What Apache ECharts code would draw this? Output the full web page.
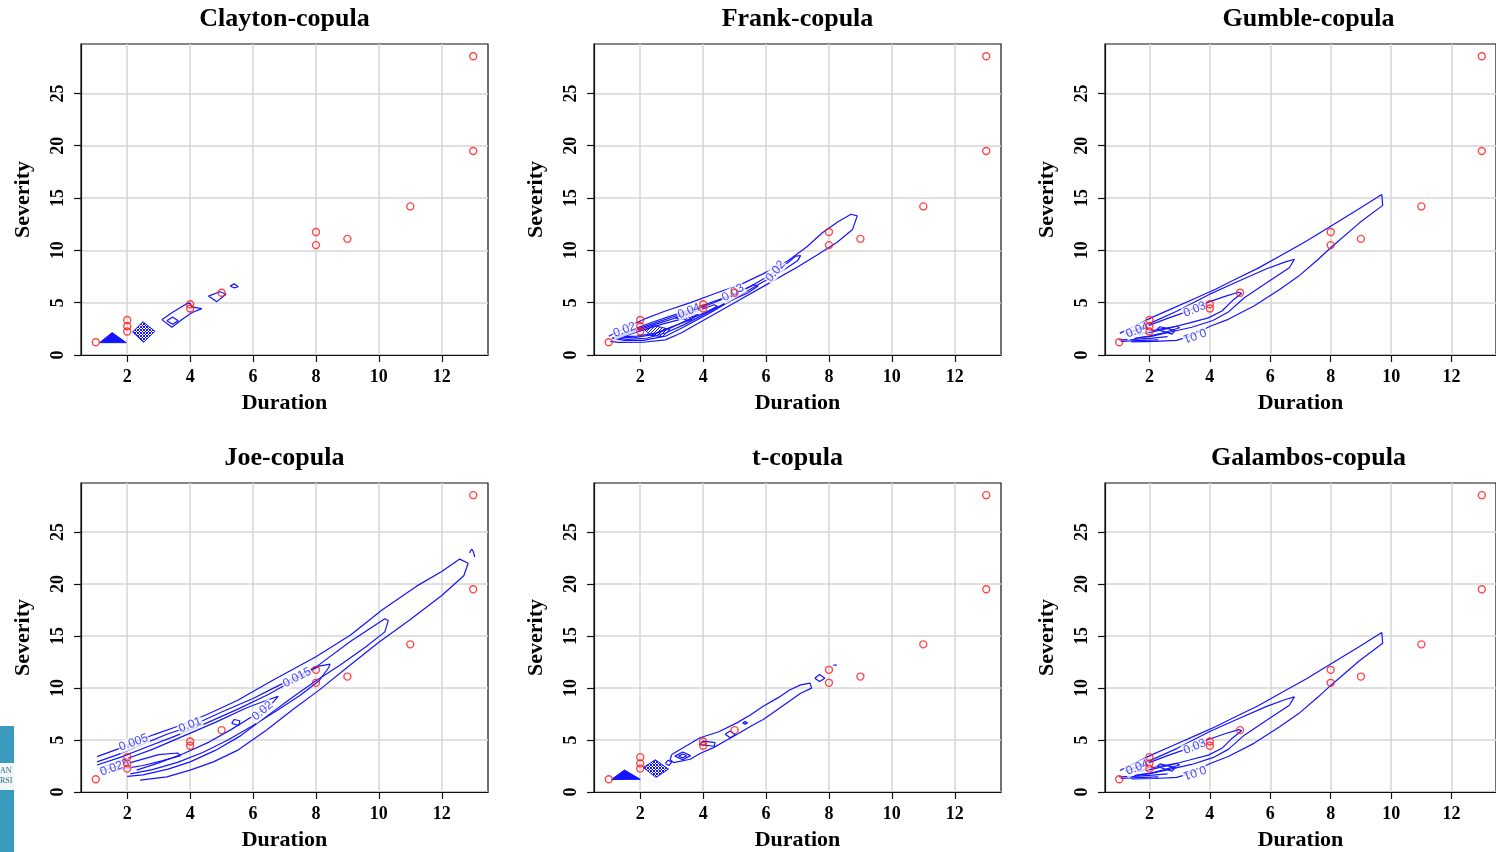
<!DOCTYPE html>
<html><head><meta charset="utf-8">
<script src="https://cdn.jsdelivr.net/npm/echarts@6/dist/echarts.min.js"></script>
<style>html,body{margin:0;padding:0;background:#fff}#c{width:1496px;height:852px}</style>
</head><body><div id="c"></div>
<script>
// ---------------- data ----------------
const panelTitles = ['Clayton-copula', 'Frank-copula', 'Gumble-copula', 'Joe-copula', 't-copula', 'Galambos-copula'];
const xTickValues = [2, 4, 6, 8, 10, 12];
const yTickValues = [0, 5, 10, 15, 20, 25];
const xRange = [0.53, 13.47];
const yRange = [0, 29.72];
const obsDuration = [1, 2, 2, 2, 4, 4, 5, 8, 8, 9, 11, 13, 13];
const obsSeverity = [1.22, 3.35, 2.75, 2.25, 4.45, 4.85, 5.95, 11.75, 10.5, 11.1, 14.2, 19.5, 28.55];

// Clayton contours
const claytonSolid = [[[1.12, 1.18], [1.52, 2.14], [1.97, 1.18]]];
const claytonHatch = [[[2.17, 2.2], [2.5, 3.18], [2.88, 2.27], [2.52, 1.22]]];
const claytonLines = [
  [[3.1, 3.38], [3.42, 4.04], [3.9, 4.93], [4.0, 4.95], [4.05, 4.6], [4.37, 4.43], [4.05, 4.04], [3.74, 3.4], [3.42, 2.65], [3.1, 3.38]],
  [[3.26, 3.27], [3.44, 3.63], [3.62, 3.27], [3.44, 2.93], [3.26, 3.27]],
  [[4.58, 5.63], [4.95, 6.05], [5.14, 5.8], [4.85, 5.1], [4.58, 5.63]],
  [[5.27, 6.6], [5.4, 6.8], [5.53, 6.52], [5.4, 6.42], [5.27, 6.6]]
];
const claytonLabels = [];

// Frank contours
const frankLines = [
  [[1.0, 1.8], [1.5, 2.55], [2.1, 3.4], [2.8, 4.2], [3.6, 5.0], [4.4, 5.9], [5.2, 6.75], [5.9, 7.75], [6.7, 9.0], [7.3, 10.35], [7.8, 11.7], [8.3, 12.75], [8.7, 13.45], [8.9, 13.3], [8.75, 12.0], [8.25, 10.75], [7.6, 9.5], [7.0, 8.4], [6.0, 6.7], [5.0, 5.0], [4.0, 3.3], [3.3, 2.1], [2.8, 1.45], [2.1, 1.22], [1.3, 1.2], [1.05, 1.3]],
  [[1.1, 1.6], [1.7, 2.35], [2.4, 3.15], [3.2, 3.95], [4.0, 4.75], [4.8, 5.6], [5.5, 6.55], [6.1, 7.6], [6.6, 8.6], [6.95, 9.45], [7.1, 9.5], [7.0, 9.0], [6.5, 8.0], [5.8, 6.8], [5.0, 5.4], [4.2, 4.0], [3.4, 2.7], [2.8, 1.8], [2.1, 1.4], [1.5, 1.4], [1.1, 1.6]],
  [[1.2, 1.65], [1.8, 2.35], [2.5, 3.1], [3.2, 3.8], [3.9, 4.5], [4.6, 5.3], [5.2, 6.1], [5.6, 6.7], [5.75, 6.6], [5.4, 5.9], [4.8, 5.1], [4.1, 4.0], [3.4, 2.9], [2.8, 2.1], [2.2, 1.6], [1.6, 1.5], [1.2, 1.65]],
  [[1.3, 1.7], [1.9, 2.35], [2.6, 3.05], [3.3, 3.7], [3.9, 4.3], [4.35, 4.8], [4.45, 4.65], [4.1, 4.1], [3.5, 3.35], [2.9, 2.5], [2.4, 1.95], [1.8, 1.65], [1.3, 1.7]],
  [[1.45, 1.75], [2.0, 2.3], [2.7, 2.95], [3.4, 3.5], [3.75, 3.75], [3.6, 3.35], [3.0, 2.7], [2.5, 2.1], [1.9, 1.8], [1.45, 1.75]]
];
const frankHatch = [
  [[2.15, 2.4], [2.45, 2.8], [2.95, 2.45], [2.7, 1.75], [2.3, 1.9]],
  [[3.1, 3.55], [3.4, 4.0], [3.85, 3.85], [3.55, 3.3]]
];
const frankLabels = [['0.02', 1.5, 2.4, 20], ['0.04', 3.55, 4.2, 22], ['0.03', 4.95, 5.95, 30], ['0.02', 6.3, 8.0, 50]];

// Gumbel contours
const gumbelLines = [
  [[1.02, 2.07], [1.5, 2.75], [2.07, 3.57], [2.8, 4.5], [3.56, 5.47], [4.2, 6.3], [4.83, 7.22], [5.6, 8.3], [6.41, 9.61], [7.2, 10.9], [8.0, 12.31], [8.9, 13.9], [9.69, 15.33], [9.72, 14.3], [8.95, 12.63], [8.0, 10.25], [7.58, 9.13], [6.94, 7.54], [6.31, 6.27], [5.46, 4.68], [4.61, 3.41], [4.03, 2.77], [3.3, 1.75], [2.9, 1.4], [2.18, 1.3], [1.4, 1.25]],
  [[1.2, 2.0], [1.5, 2.35], [2.07, 3.09], [2.92, 4.2], [3.98, 5.79], [4.83, 6.9], [5.88, 8.24], [6.5, 8.9], [6.8, 9.15], [6.85, 9.0], [6.63, 8.34], [5.88, 6.9], [5.14, 5.47], [4.61, 4.1], [4.1, 3.3], [3.4, 2.65], [2.7, 2.2], [2.1, 1.8], [1.5, 1.6]],
  [[1.3, 2.05], [1.7, 2.5], [2.1, 2.95], [2.6, 3.5], [3.1, 4.0], [3.95, 5.05], [4.5, 5.6], [4.95, 6.0], [5.05, 5.9], [4.75, 5.2], [4.4, 4.2], [3.95, 3.55], [3.3, 3.05], [2.7, 2.6], [2.1, 2.2], [1.6, 1.95]],
  [[1.35, 1.85], [1.8, 2.15], [2.3, 2.45], [2.9, 2.75], [3.0, 2.6], [2.5, 2.15], [2.0, 1.8], [1.5, 1.6]],
  [[2.25, 2.45], [2.35, 2.7], [2.85, 2.35], [2.75, 2.0], [2.25, 2.45]],
  [[1.0, 1.45], [1.5, 1.5], [2.1, 1.62], [2.6, 1.75]],
  [[1.05, 1.3], [1.6, 1.38], [2.3, 1.45]]
];
const gumbelLabels = [['0.04', 1.6, 2.35, 22], ['0.03', 3.5, 4.35, 22], ['0.01', 3.5, 1.9, 200]];

// Joe contours
const joeLines = [
  [[1.04, 3.4], [1.67, 4.1], [2.2, 4.75], [2.83, 5.5], [3.63, 6.35], [4.5, 7.4], [5.5, 8.8], [6.6, 10.7], [8.0, 13.0], [9.1, 15.1], [10.1, 17.5], [11.2, 19.8], [12.0, 21.2], [12.57, 22.4], [12.84, 22.0], [12.7, 20.8], [12.0, 18.9], [11.0, 16.6], [10.0, 14.4], [9.0, 12.0], [8.1, 9.8], [7.3, 8.0], [6.4, 5.9], [5.5, 4.0], [4.74, 2.9], [4.0, 2.1], [3.26, 1.45], [2.41, 1.15]],
  [[1.04, 2.9], [1.7, 3.6], [2.5, 4.6], [3.3, 5.6], [4.0, 6.3], [5.0, 7.7], [6.0, 9.0], [6.65, 9.99], [8.02, 12.06], [9.08, 14.45], [10.19, 16.67], [10.3, 16.5], [10.19, 15.4], [9.6, 14.0], [8.76, 12.2], [8.0, 10.7], [7.2, 9.0], [6.4, 7.2], [5.6, 5.4], [4.8, 4.0], [4.0, 2.9], [3.3, 2.2], [2.5, 1.65], [2.0, 1.5]],
  [[1.04, 2.6], [1.8, 3.35], [2.6, 4.3], [3.5, 5.35], [4.5, 6.6], [5.5, 7.95], [6.5, 9.4], [7.4, 10.95], [8.1, 12.1], [8.45, 12.3], [8.4, 11.95], [8.1, 10.7], [7.5, 9.3], [6.8, 7.9], [6.0, 6.4], [5.2, 5.0], [4.4, 3.8], [3.6, 2.85], [2.8, 2.15], [2.1, 1.75]],
  [[1.1, 2.3], [1.9, 3.1], [2.8, 4.1], [3.8, 5.4], [4.8, 6.7], [5.8, 8.1], [6.5, 8.9], [6.8, 9.2], [6.6, 8.5], [6.0, 7.3], [5.3, 6.0], [4.6, 4.8], [3.8, 3.7], [3.0, 2.8], [2.3, 2.1]],
  [[5.32, 6.6], [5.4, 6.97], [5.58, 6.85], [5.55, 6.4], [5.32, 6.6]],
  [[1.1, 2.0], [1.6, 2.4], [2.3, 3.0], [3.0, 3.6], [3.6, 3.75], [3.7, 3.5], [3.1, 3.0], [2.5, 2.55], [2.0, 2.3], [1.5, 2.0]],
  [[12.88, 23.0], [12.95, 23.35], [13.0, 23.15], [13.05, 22.6]]
];
const joeLabels = [['0.005', 2.2, 4.75, 20], ['0.01', 4.0, 6.45, 22], ['0.015', 7.4, 11.0, 27], ['0.02', 6.3, 7.8, 40], ['0.025', 1.6, 2.35, 20]];

// t contours
const tSolid = [[[1.08, 1.2], [1.5, 2.12], [2.0, 1.22]]];
const tHatch = [[[2.1, 2.36], [2.48, 3.1], [2.9, 2.2], [2.5, 1.4]]];
const tLines = [
  [[3.0, 3.6], [3.06, 3.79], [3.5, 4.5], [3.9, 5.22], [4.5, 5.8], [5.07, 6.65], [5.5, 7.4], [5.91, 8.24], [6.4, 9.1], [6.76, 9.83], [7.1, 10.3], [7.4, 10.47], [7.45, 9.99], [7.1, 9.5], [6.66, 8.56], [6.3, 7.8], [5.91, 6.97], [5.5, 6.3], [5.07, 5.53], [4.7, 4.9], [4.33, 4.27], [3.9, 3.7], [3.59, 3.15], [3.06, 2.83], [2.95, 3.1], [3.0, 3.6]],
  [[3.1, 3.45], [3.35, 3.85], [3.6, 3.5], [3.35, 3.1], [3.1, 3.45]],
  [[3.22, 3.45], [3.35, 3.65], [3.48, 3.48], [3.35, 3.28], [3.22, 3.45]],
  [[2.8, 2.75], [2.88, 3.05], [3.0, 2.9], [2.92, 2.55], [2.8, 2.75]],
  [[3.88, 4.55], [4.0, 4.9], [4.38, 4.75], [4.35, 4.4], [3.88, 4.55]],
  [[4.7, 5.55], [4.86, 5.86], [5.02, 5.5], [4.86, 5.22], [4.7, 5.55]],
  [[5.26, 6.65], [5.33, 6.77], [5.41, 6.65], [5.33, 6.53], [5.26, 6.65]],
  [[7.55, 10.95], [7.7, 11.3], [7.87, 10.95], [7.7, 10.63], [7.55, 10.95]],
  [[8.14, 12.2], [8.19, 12.32], [8.25, 12.2], [8.19, 12.1], [8.14, 12.2]]
];
const tLabels = [];

// Galambos contours (drawn almost identically to Gumbel in the source)
const galambosLines = gumbelLines;
const galambosLabels = gumbelLabels;

// ---------------- chart ----------------
const BLUE = '#1414ff';
const RED = '#ff1a1a';
const SERIF = '"Liberation Serif", "Times New Roman", serif';
const cols = [81, 594, 1105], rows = [44, 483], W = 407, H = 311;

function hatch(step, both) {
  const c = document.createElement('canvas'); c.width = step; c.height = step;
  const g = c.getContext('2d'); g.strokeStyle = BLUE; g.lineWidth = 1;
  g.beginPath(); g.moveTo(0, step); g.lineTo(step, 0);
  if (both) { g.moveTo(0, 0); g.lineTo(step, step); }
  g.stroke();
  return { image: c, repeat: 'repeat' };
}
const denseHatch = hatch(3, true);
const lightHatch = hatch(3, false);

const panels = [
  { lines: claytonLines, solid: claytonSolid, hatch: claytonHatch, hatchFill: denseHatch, labels: claytonLabels },
  { lines: frankLines, solid: [], hatch: frankHatch, hatchFill: lightHatch, labels: frankLabels },
  { lines: gumbelLines, solid: [], hatch: [], labels: gumbelLabels },
  { lines: joeLines, solid: [], hatch: [], labels: joeLabels },
  { lines: tLines, solid: tSolid, hatch: tHatch, hatchFill: denseHatch, labels: tLabels },
  { lines: galambosLines, solid: [], hatch: [], labels: galambosLabels }
];

const grids = [], xAxes = [], yAxes = [], titles = [], series = [];
const labelFont = { fontFamily: SERIF, fontWeight: 'bold', color: '#000' };

panels.forEach((p, i) => {
  const left = cols[i % 3], top = rows[Math.floor(i / 3)];
  grids.push({ left, top, width: W, height: H, show: true, borderColor: '#111', borderWidth: 1.2, backgroundColor: '#fff', containLabel: false });
  titles.push({ text: panelTitles[i], left: left + W / 2, top: top - 38, textAlign: 'center', padding: 0,
    textStyle: { fontFamily: SERIF, fontWeight: 'bold', fontSize: 26, color: '#000' } });
  xAxes.push({
    gridIndex: i, type: 'value', min: xRange[0], max: xRange[1], splitNumber: 6,
    axisLine: { show: true, onZero: false, lineStyle: { color: '#111', width: 1.2 } },
    axisTick: { show: true, length: 7, customValues: xTickValues, lineStyle: { color: '#111', width: 1.2 } },
    axisLabel: Object.assign({ customValues: xTickValues, fontSize: 18, margin: 13 }, labelFont),
    splitLine: { show: true, lineStyle: { color: '#d6d6d6', width: 1.5 } },
    name: 'Duration', nameLocation: 'middle', nameGap: 37,
    nameTextStyle: { fontFamily: SERIF, fontWeight: 'bold', fontSize: 22, color: '#000' }
  });
  yAxes.push({
    gridIndex: i, type: 'value', min: yRange[0], max: yRange[1], splitNumber: 6,
    axisLine: { show: true, onZero: false, lineStyle: { color: '#111', width: 1.2 } },
    axisTick: { show: true, length: 7, customValues: yTickValues, lineStyle: { color: '#111', width: 1.2 } },
    axisLabel: Object.assign({ customValues: yTickValues, fontSize: 18, margin: 14, rotate: 90 }, labelFont),
    splitLine: { show: true, lineStyle: { color: '#d6d6d6', width: 1.5 } },
    name: 'Severity', nameLocation: 'middle', nameGap: 47, nameRotate: 90,
    nameTextStyle: { fontFamily: SERIF, fontWeight: 'bold', fontSize: 22, color: '#000' }
  });

  p.lines.forEach(pts => series.push({
    type: 'line', xAxisIndex: i, yAxisIndex: i, data: pts, showSymbol: false, symbol: 'none',
    lineStyle: { color: BLUE, width: 1.2 }, silent: true, animation: false, z: 3
  }));
  const poly = (pts, fill) => ({
    type: 'custom', xAxisIndex: i, yAxisIndex: i, data: pts, silent: true, animation: false, z: 3,
    renderItem: (params, api) => params.dataIndex !== 0 ? null : {
      type: 'polygon', shape: { points: pts.map(q => api.coord(q)) },
      style: { fill: fill, stroke: BLUE, lineWidth: 1 }
    }
  });
  p.solid.forEach(pts => series.push(poly(pts, BLUE)));
  p.hatch.forEach(pts => series.push(poly(pts, p.hatchFill)));
  if (p.labels.length) series.push({
    type: 'scatter', xAxisIndex: i, yAxisIndex: i, symbolSize: 0.1, silent: true, animation: false, z: 4,
    data: p.labels.map(l => ({ name: l[0], value: [l[1], l[2]], label: { rotate: l[3] } })),
    label: { show: true, position: 'inside', formatter: '{b}', color: BLUE, fontSize: 12,
      fontFamily: '"Liberation Sans", Arial, sans-serif', backgroundColor: '#fff', padding: [0, 1] }
  });
  series.push({
    type: 'scatter', xAxisIndex: i, yAxisIndex: i, animation: false, z: 5, silent: true,
    data: obsDuration.map((d, k) => [d, obsSeverity[k]]),
    symbol: 'circle', symbolSize: 7,
    itemStyle: { color: 'rgba(0,0,0,0)', borderColor: RED, borderWidth: 1.4 }
  });
});

const chart = echarts.init(document.getElementById('c'), null, { renderer: 'canvas' });
chart.setOption({
  backgroundColor: '#fff', animation: false,
  title: titles, grid: grids, xAxis: xAxes, yAxis: yAxes, series,
  graphic: [
    { type: 'rect', left: 0, top: 726, shape: { width: 14, height: 126 }, style: { fill: '#3b9bbf' }, silent: true },
    { type: 'rect', left: 0, top: 763, shape: { width: 14, height: 27 }, style: { fill: '#f2f6f7' }, silent: true },
    { type: 'text', left: 0, top: 766, style: { text: 'AN\nRSI', fill: '#2a6f88', fontSize: 8, fontFamily: SERIF, lineHeight: 10 }, silent: true }
  ]
});
</script></body></html>
